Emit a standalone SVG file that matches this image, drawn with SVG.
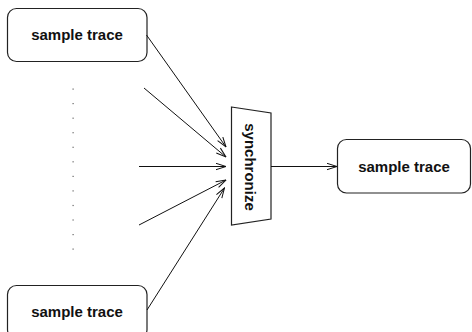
<svg xmlns="http://www.w3.org/2000/svg" width="472" height="332" viewBox="0 0 472 332">
  <style>
    .box { fill: #fff; stroke: #222; stroke-width: 1.2; }
    .lbl { font-family: "Liberation Sans", Arial, sans-serif; font-weight: bold; font-size: 15px; fill: #111; text-anchor: middle; }
    .edge { fill: none; stroke: #111; stroke-width: 1; marker-end: url(#open); }
    .dot { fill: #666; }
  </style>
  <defs>
    <marker id="open" markerUnits="userSpaceOnUse" viewBox="0 0 11 8" refX="10.5" refY="4" markerWidth="11" markerHeight="8" orient="auto">
      <path d="M0.5,0.8 L10.5,4 L0.5,7.2" fill="none" stroke="#111" stroke-width="1"/>
    </marker>
  </defs>

  <g id="trace-top">
    <rect class="box" x="7.5" y="8.5" width="139.5" height="53" rx="9"/>
    <text class="lbl" x="77" y="40">sample trace</text>
  </g>

  <g id="trace-bottom">
    <rect class="box" x="7.5" y="285.5" width="139.5" height="53" rx="9"/>
    <text class="lbl" x="77" y="317">sample trace</text>
  </g>

  <g id="ellipsis">
    <rect class="dot" x="72.5" y="88.5" width="1.2" height="1.2"/>
    <rect class="dot" x="72.5" y="103" width="1.2" height="1.2"/>
    <rect class="dot" x="72.5" y="117.6" width="1.2" height="1.2"/>
    <rect class="dot" x="72.5" y="132.1" width="1.2" height="1.2"/>
    <rect class="dot" x="72.5" y="146.7" width="1.2" height="1.2"/>
    <rect class="dot" x="72.5" y="161.2" width="1.2" height="1.2"/>
    <rect class="dot" x="72.5" y="175.8" width="1.2" height="1.2"/>
    <rect class="dot" x="72.5" y="190.3" width="1.2" height="1.2"/>
    <rect class="dot" x="72.5" y="204.9" width="1.2" height="1.2"/>
    <rect class="dot" x="72.5" y="219.4" width="1.2" height="1.2"/>
    <rect class="dot" x="72.5" y="234" width="1.2" height="1.2"/>
    <rect class="dot" x="72.5" y="248.5" width="1.2" height="1.2"/>
  </g>

  <g id="synchronize">
    <polygon class="box" points="231.5,107 271,113 271,219 231.5,225"/>
    <text class="lbl" transform="translate(244.5,167) rotate(90)">synchronize</text>
  </g>

  <g id="trace-out">
    <rect class="box" x="337.5" y="139.5" width="133" height="53.5" rx="9"/>
    <text class="lbl" x="404" y="171.5">sample trace</text>
  </g>

  <g id="connectors">
    <line class="edge" x1="146.5" y1="35" x2="226" y2="147"/>
    <line class="edge" x1="144" y1="88" x2="226" y2="157"/>
    <line class="edge" x1="139" y1="166.5" x2="226" y2="166.5"/>
    <line class="edge" x1="139" y1="225" x2="226" y2="180"/>
    <line class="edge" x1="147" y1="310" x2="224.5" y2="188"/>
    <line class="edge" x1="271" y1="166.5" x2="337" y2="166.5"/>
  </g>
</svg>
